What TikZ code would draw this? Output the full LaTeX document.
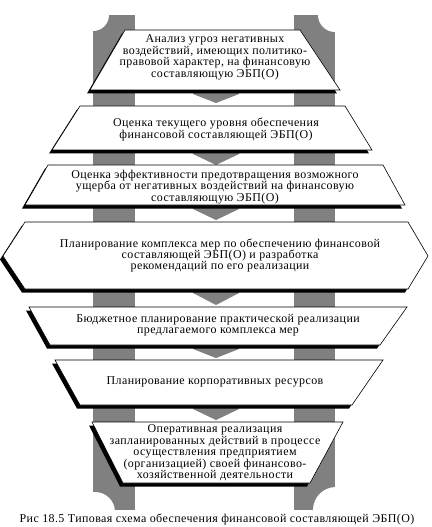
\documentclass[tikz,border=0pt]{standalone}
\usepackage{fontspec}
\setmainfont{Liberation Serif}[LetterSpace=3.5]
\usepackage{tikz}
\definecolor{white}{rgb}{1.0, 1.0, 1.0}
\definecolor{black}{rgb}{0.0, 0.0, 0.0}
\definecolor{pgray}{RGB}{128,128,128}
\usetikzlibrary{calc}
\usetikzlibrary{shadows}
\pgfdeclarelayer{pillarlayer}
\pgfdeclarelayer{edgelayer}
\pgfdeclarelayer{nodelayer}
\pgfsetlayers{pillarlayer,edgelayer,nodelayer,main}
\tikzstyle{stage}=[draw=black,fill=white,line width=0.6bp,drop shadow={shadow xshift=-3bp,shadow yshift=-3.5bp,opacity=1,fill=black}]
\tikzstyle{txt}=[align=center,inner sep=0pt,font=\fontsize{12}{11.5}\selectfont]
\tikzstyle{pillar}=[fill=pgray]
\tikzstyle{flow}=[fill=pgray]

\begin{document}
\begin{tikzpicture}[x=1bp,y=-1bp]
            \useasboundingbox (0,0) rectangle (431,527);

            \begin{pgfonlayer}{pillarlayer}
            \fill [style = pillar] (93,15) rectangle (135,510);
            \fill [style = pillar] (294,15) rectangle (335,510);
            % capitals and bases
            \fill [white] (93,15) circle (16);
            \fill [white] (335,15) circle (17);
            \fill [white] (95,512) circle (20);
            \fill [white] (336,510) circle (23);
            \end{pgfonlayer}

            \begin{pgfonlayer}{nodelayer}
            \draw [style = stage] (125,30) -- (300,30) -- (340,90) -- (90,90) -- cycle;
            \draw [style = stage] (80,106) -- (345,106) -- (372,150) -- (52,150) -- cycle;
            \draw [style = stage] (48,165) -- (383,165) -- (405,205) -- (25,205) -- cycle;
            \draw [style = stage] (25,222) -- (408,222) -- (428,256) -- (408,289) -- (25,289) -- (3,256) -- cycle;
            \draw [style = stage] (29,307) -- (407,307) -- (380,345) -- (50,345) -- cycle;
            \draw [style = stage] (55,360) -- (383,360) -- (352,405) -- (80,405) -- cycle;
            \draw [style = stage] (92,422) -- (343,422) -- (310,483) -- (123,483) -- cycle;
            \end{pgfonlayer}

            \node [style = txt] (threat) at (215,57.5) {Анализ угроз негативных\\воздействий, имеющих политико-\\правовой характер, на финансовую\\составляющую ЭБП(О)};
            \node [style = txt] (level) at (216,129.5) {Оценка текущего уровня обеспечения\\финансовой составляющей ЭБП(О)};
            \node [style = txt] (effect) at (215,187) {Оценка эффективности предотвращения возможного\\ущерба от негативных воздействий на финансовую\\составляющую ЭБП(О)};
            \node [style = txt] (plan) at (220,255.5) {Планирование комплекса мер по обеспечению финансовой\\составляющей ЭБП(О) и разработка\\рекомендаций по его реализации};
            \node [style = txt] (budget) at (218,325) {Бюджетное планирование практической реализации\\предлагаемого комплекса мер};
            \node [style = txt] (res) at (215,382) {Планирование корпоративных ресурсов};
            \node [style = txt] (oper) at (215,453) {Оперативная реализация\\запланированных действий в процессе\\осуществления предприятием\\(организацией) своей финансово-\\хозяйственной деятельности};

            \node [style = txt] (caption) at (217,519) {Рис 18.5 Типовая схема обеспечения финансовой составляющей ЭБП(О)};

            % arrows: out of one stage, into the next
            \coordinate (out1) at (216,86);  \coordinate (in2) at (216,103);
            \coordinate (out2) at (216,146); \coordinate (in3) at (216,165);
            \coordinate (out3) at (216,201); \coordinate (in4) at (216,220);
            \coordinate (out4) at (216,285); \coordinate (in5) at (216,305);
            \coordinate (out5) at (216,341); \coordinate (in6) at (216,358);
            \coordinate (out6) at (216,401); \coordinate (in7) at (216,420);

            \begin{pgfonlayer}{edgelayer}
            \fill [style = flow] ($(out1)+(-23,0)$) -- ($(out1)+(23,0)$) -- ($(out1)+(23,8)$) -- (in2) -- ($(out1)+(-23,8)$) -- cycle;
            \fill [style = flow] ($(out2)+(-23,0)$) -- ($(out2)+(23,0)$) -- ($(out2)+(23,8)$) -- (in3) -- ($(out2)+(-23,8)$) -- cycle;
            \fill [style = flow] ($(out3)+(-23,0)$) -- ($(out3)+(23,0)$) -- ($(out3)+(23,8)$) -- (in4) -- ($(out3)+(-23,8)$) -- cycle;
            \fill [style = flow] ($(out4)+(-23,0)$) -- ($(out4)+(23,0)$) -- ($(out4)+(23,8)$) -- (in5) -- ($(out4)+(-23,8)$) -- cycle;
            \fill [style = flow] ($(out5)+(-23,0)$) -- ($(out5)+(23,0)$) -- ($(out5)+(23,8)$) -- (in6) -- ($(out5)+(-23,8)$) -- cycle;
            \fill [style = flow] ($(out6)+(-23,0)$) -- ($(out6)+(23,0)$) -- ($(out6)+(23,8)$) -- (in7) -- ($(out6)+(-23,8)$) -- cycle;
            \end{pgfonlayer}
\end{tikzpicture}
\end{document}
